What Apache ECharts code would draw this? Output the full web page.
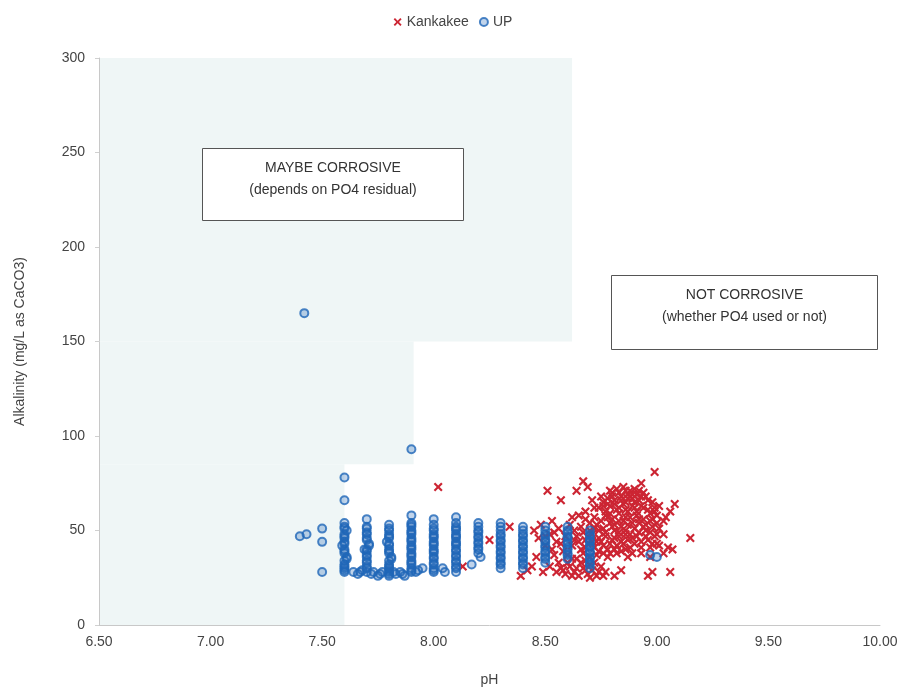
<!DOCTYPE html>
<html>
<head>
<meta charset="utf-8">
<title>Alkalinity vs pH</title>
<script src="https://cdn.jsdelivr.net/npm/echarts@6/dist/echarts.min.js"></script>
<style>
  html, body { margin: 0; padding: 0; background: #ffffff; }
  #chart { width: 906px; height: 692px; }
</style>
</head>
<body>
<div id="chart"></div>
<script>
// Axis ranges and tick settings
const phTicks = [6.5, 7.0, 7.5, 8.0, 8.5, 9.0, 9.5, 10.0];
const alkTicks = [0, 50, 100, 150, 200, 250, 300];

// Kankakee samples: [pH, alkalinity mg/L as CaCO3]
const kankakee = [
  [8.02,73],[8.13,31],[8.25,45],[8.34,52],[8.39,26],[8.42,29],[8.49,28],[8.51,71],
  [8.57,66],[8.64,71],[8.67,76],[8.69,73],[8.93,75],[8.99,81],[9.08,64],[9.15,46],
  [9.06,28],[8.96,26],[8.98,28],[8.81,26],[8.84,29],[9.04,57],[9.01,42],[9.03,38],[9.05,41],
  [8.82,72],[8.85,73],[8.88,71],[8.90,72],[8.94,70],[8.80,70],[8.87,69],
  [8.78,67],[8.81,66],[8.84,68],[8.86,65],[8.89,67],[8.92,66],[8.95,68],[8.98,65],[8.76,65],
  [8.74,62],[8.77,60],[8.79,63],[8.82,61],[8.85,64],[8.87,60],[8.90,62],[8.93,63],[8.96,61],[8.99,60],[9.01,63],
  [8.72,57],[8.75,55],[8.77,58],[8.80,56],[8.83,59],[8.85,55],[8.88,57],[8.91,58],[8.94,56],[8.97,55],[9.00,58],[8.68,56],
  [8.66,52],[8.70,50],[8.73,53],[8.76,51],[8.79,54],[8.81,50],[8.84,52],[8.87,53],[8.90,51],[8.92,54],[8.95,50],[8.98,52],[9.01,51],
  [8.64,47],[8.68,45],[8.71,48],[8.74,46],[8.77,49],[8.80,45],[8.83,47],[8.86,48],[8.89,46],[8.92,49],[8.96,45],[8.99,47],
  [8.62,42],[8.66,40],[8.69,43],[8.72,41],[8.75,44],[8.78,40],[8.82,42],[8.85,43],[8.88,41],[8.93,44],[8.97,41],[9.00,43],
  [8.60,37],[8.64,35],[8.67,38],[8.70,36],[8.74,39],[8.78,36],[8.82,38],[8.87,36],[8.93,38],
  [8.57,30],[8.59,27],[8.61,31],[8.63,28],[8.65,26],[8.67,30],[8.69,27],[8.71,29],[8.73,26],[8.75,31],[8.77,28],[8.60,33],[8.70,32],[8.66,33],
  [8.45,50],[8.47,46],[8.48,53],[8.50,42],[8.52,48],[8.53,55],[8.55,44],[8.56,51],[8.58,39],[8.59,47],[8.61,53],[8.62,57],[8.63,45],
  [8.46,36],[8.54,37],[8.44,31],[8.52,31],[8.55,28],
  [8.72,62],[8.75,68],[8.68,60],[8.65,58],[8.71,66],[8.79,71],[8.91,69],[8.96,66],
  [9.03,55],[9.06,60],[9.03,48],[8.97,36],[9.07,40],
  [8.76,63],[8.79,59],[8.81,64],[8.83,62],[8.86,61],[8.89,63],[8.91,60],[8.94,62],[8.97,59],[8.99,62],
  [8.78,57],[8.81,53],[8.83,55],[8.86,57],[8.89,54],[8.92,56],[8.95,53],[8.98,56],[9.00,54],
  [8.74,50],[8.77,47],[8.80,52],[8.83,49],[8.86,50],[8.88,48],[8.91,47],[8.94,52],[8.97,49],[9.00,48],
  [8.73,44],[8.76,42],[8.79,43],[8.81,46],[8.84,44],[8.87,45],[8.90,43],[8.93,41],[8.95,47],[8.98,43],
  [8.83,70],[8.86,71],[8.89,69],[8.92,71],[8.84,66],[8.87,67],[8.90,65],[8.93,68],[8.80,68],[8.78,64],
  [8.70,54],[8.72,51],[8.69,47],[8.71,44],[8.67,49],[8.65,44],[8.63,50],[8.68,41],[8.73,37],[8.76,38],
  [8.79,38],[8.81,40],[8.84,39],[8.86,40],[8.89,38],[8.62,35],[8.68,34],[8.72,33],[8.64,30],[8.68,29],
  [8.58,29],[8.62,26],[8.70,25],[8.74,28],[8.76,26],[8.56,33],[8.53,40],[8.57,43],[8.54,49],[8.50,47]
];

// UP samples: [pH, alkalinity mg/L as CaCO3]
const up = [
  [7.42,165],[7.90,93],[7.60,78],[7.60,66],
  [7.40,47],[7.43,48],[7.50,51],[7.50,44],[7.50,28],
  [7.60,28],[7.60,29],[7.60,30],[7.60,31],[7.60,32],[7.60,34],[7.61,35],[7.61,36],[7.60,38],[7.60,39],[7.60,40],[7.59,42],[7.60,43],[7.60,44],[7.60,46],[7.60,47],[7.60,48],[7.61,50],[7.60,51],[7.60,52],[7.60,54],
  [7.64,28],[7.66,27],[7.67,28],[7.68,29],
  [7.70,28],[7.70,30],[7.70,31],[7.70,33],[7.70,34],[7.70,36],[7.70,37],[7.70,39],[7.70,40],[7.71,42],[7.71,43],[7.70,45],[7.70,46],[7.70,48],[7.70,49],[7.70,51],[7.70,52],[7.70,56],[7.69,40],
  [7.72,27],[7.73,28],[7.75,26],[7.76,27],[7.77,28],
  [7.80,26],[7.80,27],[7.80,28],[7.80,29],[7.80,30],[7.80,31],[7.80,32],[7.80,34],[7.81,35],[7.81,36],[7.80,38],[7.80,39],[7.80,40],[7.80,42],[7.80,43],[7.79,44],[7.80,46],[7.80,47],[7.80,48],[7.80,50],[7.80,51],[7.80,53],
  [7.82,28],[7.83,27],[7.85,28],[7.86,27],[7.87,26],
  [7.90,28],[7.90,29],[7.90,30],[7.90,32],[7.90,33],[7.90,34],[7.90,36],[7.90,37],[7.90,38],[7.90,40],[7.90,41],[7.90,42],[7.90,44],[7.90,45],[7.90,46],[7.90,48],[7.90,49],[7.90,50],[7.90,52],[7.90,53],[7.90,54],[7.90,58],
  [7.92,28],[7.93,29],[7.95,30],
  [8.00,28],[8.00,29],[8.00,30],[8.00,32],[8.00,33],[8.00,35],[8.00,36],[8.00,38],[8.00,39],[8.00,40],[8.00,42],[8.00,43],[8.00,44],[8.00,46],[8.00,47],[8.00,48],[8.00,50],[8.00,51],[8.00,53],[8.00,56],
  [8.04,30],[8.05,28],
  [8.10,28],[8.10,30],[8.10,31],[8.10,33],[8.10,34],[8.10,36],[8.10,37],[8.10,39],[8.10,40],[8.10,42],[8.10,43],[8.10,44],[8.10,46],[8.10,47],[8.10,48],[8.10,50],[8.10,51],[8.10,52],[8.10,54],[8.10,57],
  [8.20,38],[8.20,40],[8.20,41],[8.20,43],[8.20,44],[8.20,46],[8.20,47],[8.20,49],[8.20,50],[8.20,52],[8.20,54],[8.21,36],[8.17,32],
  [8.30,30],[8.30,32],[8.30,33],[8.30,35],[8.30,36],[8.30,38],[8.30,39],[8.30,41],[8.30,42],[8.30,44],[8.30,45],[8.30,47],[8.30,48],[8.30,50],[8.30,52],[8.30,54],
  [8.40,30],[8.40,32],[8.40,33],[8.40,35],[8.40,36],[8.40,38],[8.40,39],[8.40,41],[8.40,42],[8.40,44],[8.40,45],[8.40,47],[8.40,48],[8.40,50],[8.40,52],
  [8.50,33],[8.50,35],[8.50,36],[8.50,38],[8.50,39],[8.50,41],[8.50,42],[8.50,44],[8.50,45],[8.50,47],[8.50,48],[8.50,50],[8.50,52],
  [8.60,35],[8.60,37],[8.60,38],[8.60,40],[8.60,41],[8.60,43],[8.60,44],[8.60,46],[8.60,47],[8.60,49],[8.60,50],[8.60,52],
  [8.70,30],[8.70,32],[8.70,33],[8.70,35],[8.70,36],[8.70,38],[8.70,39],[8.70,41],[8.70,42],[8.70,44],[8.70,45],[8.70,47],[8.70,48],[8.70,50],
  [9.00,36],[8.97,37]
];

// Lightly shaded "maybe corrosive" zone, as [pH from, alk from, pH to, alk to]
const maybeZone = [
  [6.5, 150, 8.62, 300],
  [6.5, 85, 7.91, 150],
  [6.5, 0, 7.60, 85]
];

const FONT = '"Liberation Sans", Arial, sans-serif';
const crossPath = 'path://M0,1.7 L1.7,0 L5,3.3 L8.3,0 L10,1.7 L6.7,5 L10,8.3 L8.3,10 L5,6.7 L1.7,10 L0,8.3 L3.3,5 Z';

// Annotation box: frame plus two centred lines
function noteBox(id, left, top, w, h, line1, line2) {
  return {
    id: id, type: 'group', left: left, top: top,
    children: [
      { type: 'rect', z: 100, shape: { x: 0, y: 0, width: w, height: h },
        style: { fill: '#ffffff', stroke: '#555', lineWidth: 1 } },
      { type: 'text', z: 101, x: w / 2, y: 20,
        style: { text: line1, font: '14px ' + FONT, fill: '#333', align: 'center', verticalAlign: 'middle' } },
      { type: 'text', z: 101, x: w / 2, y: 42,
        style: { text: line2, font: '14px ' + FONT, fill: '#333', align: 'center', verticalAlign: 'middle' } }
    ]
  };
}

const chart = echarts.init(document.getElementById('chart'), null, { renderer: 'canvas' });

chart.setOption({
  backgroundColor: '#ffffff',
  animation: false,
  textStyle: { fontFamily: FONT },
  legend: {
    top: 10,
    left: 'center',
    itemWidth: 8,
    itemHeight: 8,
    itemGap: 10,
    textStyle: { fontFamily: FONT, fontSize: 14, color: '#444' },
    data: [
      { name: 'Kankakee', icon: crossPath },
      { name: 'UP', icon: 'circle' }
    ]
  },
  grid: { left: 99, right: 26, top: 58, bottom: 66 },
  xAxis: {
    type: 'value',
    min: phTicks[0],
    max: phTicks[phTicks.length - 1],
    interval: 0.5,
    name: 'pH',
    nameLocation: 'middle',
    nameGap: 48,
    nameTextStyle: { fontFamily: FONT, fontSize: 14, color: '#444' },
    axisLine: { show: true, lineStyle: { color: '#c8c8c8', width: 1 } },
    axisTick: { show: false },
    splitLine: { show: false },
    axisLabel: {
      margin: 10,
      fontFamily: FONT, fontSize: 14, color: '#444',
      formatter: v => v.toFixed(2)
    }
  },
  yAxis: {
    type: 'value',
    min: alkTicks[0],
    max: alkTicks[alkTicks.length - 1],
    interval: 50,
    name: 'Alkalinity (mg/L as CaCO3)',
    nameLocation: 'middle',
    nameGap: 72,
    nameTextStyle: { fontFamily: FONT, fontSize: 14, color: '#444' },
    axisLine: { show: true, lineStyle: { color: '#c8c8c8', width: 1 } },
    axisTick: { show: true, length: 4, lineStyle: { color: '#d0d0d0' } },
    splitLine: { show: false },
    axisLabel: { margin: 14, fontFamily: FONT, fontSize: 14, color: '#444' }
  },
  series: [
    {
      name: 'Kankakee',
      type: 'scatter',
      symbol: crossPath,
      symbolSize: 9,
      itemStyle: { color: '#cc2533', opacity: 1 },
      data: kankakee,
      markArea: {
        silent: true,
        z: 0,
        itemStyle: { color: '#eff6f6' },
        data: maybeZone.map(z => [{ coord: [z[0], z[1]] }, { coord: [z[2], z[3]] }])
      },
      z: 2
    },
    {
      name: 'UP',
      type: 'scatter',
      symbol: 'circle',
      symbolSize: 8,
      itemStyle: { color: 'rgba(31,102,184,0.35)', borderColor: '#1f66b8', borderWidth: 2 },
      data: up,
      z: 3
    }
  ],
  graphic: {
    z: 100,
    elements: [
      noteBox('boxMaybe', 202, 148, 261, 72, 'MAYBE CORROSIVE', '(depends on PO4 residual)'),
      noteBox('boxNot', 611, 275, 266, 74, 'NOT CORROSIVE', '(whether PO4 used or not)')
    ]
  }
});
</script>
</body>
</html>
